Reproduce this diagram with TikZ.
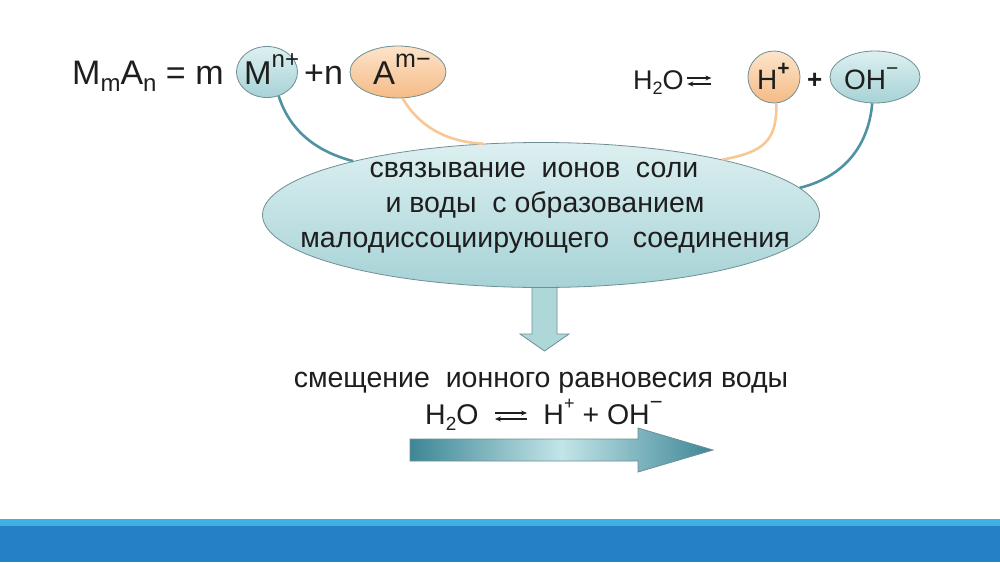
\documentclass[tikz,border=0pt]{standalone}
\usepackage{fontspec}
\setmainfont{Liberation Sans}
\usetikzlibrary{shapes.geometric,arrows.meta}
\definecolor{tealA}{HTML}{DDF0F1}
\definecolor{tealB}{HTML}{A6D2D6}
\definecolor{rim}{HTML}{6F8F94}
\definecolor{orA}{HTML}{FDE4CA}
\definecolor{orB}{HTML}{F5BB86}
\definecolor{tealline}{HTML}{4F93A3}
\definecolor{orline}{HTML}{F7C896}
\definecolor{barlight}{HTML}{3DB1E3}
\definecolor{barmain}{HTML}{2581C4}
\definecolor{arrdark}{HTML}{3E8696}
\definecolor{arrlight}{HTML}{C2E5E8}
\definecolor{txt}{HTML}{1E1E1E}
\newcommand\lowidx[2]{\raisebox{-0.22em}{\fontsize{#1}{#1}\selectfont #2}}
\newcommand\upidx[2]{\raisebox{0.5em}{\fontsize{#1}{#1}\selectfont #2}}
\newcommand\eqarr[1]{\tikz[baseline=0pt,x=1pt,y=1pt,line width=1.3pt,txt]{%
  \draw[-{Stealth[length=6pt,width=5pt]}] (0,11) -- (#1,11);
  \draw[-{Stealth[length=6pt,width=5pt]}] (#1,5) -- (0,5);}}
\tikzset{
  bubble/.style={ellipse, inner sep=0pt, line width=0.8pt, draw=rim},
  tealbub/.style={bubble, top color=tealA, bottom color=tealB},
  orbub/.style={bubble, top color=orA, bottom color=orB},
  lbl/.style={inner sep=0pt, anchor=base west, text=txt},
  tealconn/.style={draw=tealline, line width=2.6pt},
  orconn/.style={draw=orline, line width=2.6pt},
}
\begin{document}
\begin{tikzpicture}[x=1pt,y=-1pt]
\useasboundingbox (0,0) rectangle (1000,562);
\fill[white] (0,0) rectangle (1000,562);
% bottom bar
\fill[barlight] (0,519) rectangle (1000,526);
\fill[barmain] (0,526) rectangle (1000,562);

% small bubbles
\node[tealbub, minimum width=61pt, minimum height=51pt] (M) at (267,72) {};
\node[orbub, minimum width=96pt, minimum height=52pt] (A) at (398,72) {};
\node[orbub, minimum width=52pt, minimum height=52pt] (H) at (774,77) {};
\node[tealbub, minimum width=90pt, minimum height=52pt] (OH) at (875,77) {};

% down arrow (behind big ellipse)
\draw[rim, line width=0.8pt, fill=tealB!85!tealA] (532,280) -- (557,280) -- (557,334) -- (569,334)
  -- (544.5,351) -- (520,334) -- (532,334) -- cycle;

% big ellipse
\node[tealbub, minimum width=557pt, minimum height=145pt] (big) at (541,215) {};

% connectors
\draw[tealconn] (M.-64) .. controls (290,132) and (318,152) .. (big.164);
\draw[orconn] (A.-80) .. controls (418,125) and (445,142) .. (big.129);
\draw[orconn] (H.-85) .. controls (777,140) and (765,152) .. (big.17);
\draw[tealconn] (OH.-96) .. controls (868,150) and (840,178) .. (big.6);

% texts top left
\node[lbl, font=\fontsize{34}{34}\selectfont] (f1) at (72,84)
  {M\lowidx{24}{m}A\lowidx{24}{n} = m};
\node[lbl, font=\fontsize{33}{33}\selectfont] (fM) at (244,84)
  {M\upidx{24}{n+}};
\node[lbl, font=\fontsize{34}{34}\selectfont] (f2) at (304,84) {+n};
\node[lbl, font=\fontsize{33}{33}\selectfont] (fA) at (373,84)
  {A\upidx{25}{m\char"2212}};

% texts top right
\node[lbl, font=\fontsize{27}{27}\selectfont] (w1) at (633,89)
  {H\lowidx{18}{2}O\kern3pt\eqarr{24}};
\node[lbl, font=\fontsize{28}{28}\selectfont] (hp) at (757,89)
  {H\upidx{21}{\textbf{+}}};
\node[lbl, font=\fontsize{26}{26}\selectfont\bfseries] (pl) at (807,88) {+};
\node[lbl, font=\fontsize{28}{28}\selectfont] (oh) at (844,89)
  {OH\upidx{21}{\char"2212}};

% text in big ellipse
\node[inner sep=0pt, align=center, text=txt, font=\fontsize{28.5}{35}\selectfont] (bt) at (545,208)
  {связывание\ \ ионов\ \ соли\hspace*{22pt}\\ и воды\ \ с образованием\hspace*{22pt}\\ малодиссоциирующего\ \ \ соединения};

% lower texts
\node[inner sep=0pt, anchor=base, text=txt, font=\fontsize{28.5}{28.5}\selectfont] (t2) at (541,387)
  {смещение\ \ ионного равновесия воды};
\node[lbl, font=\fontsize{28.5}{28.5}\selectfont] (t3) at (425,424)
  {H\lowidx{19}{2}O\ \ \eqarr{32}\ \ H\upidx{18}{+} + OH\upidx{22}{\char"2212}};

% big right arrow
\shade[left color=arrdark, right color=arrdark, middle color=arrlight, draw=rim, line width=0.8pt]
  (410,439) -- (638,439) -- (638,428) -- (713,450) -- (638,472) -- (638,461) -- (410,461) -- cycle;
\end{tikzpicture}
\end{document}
